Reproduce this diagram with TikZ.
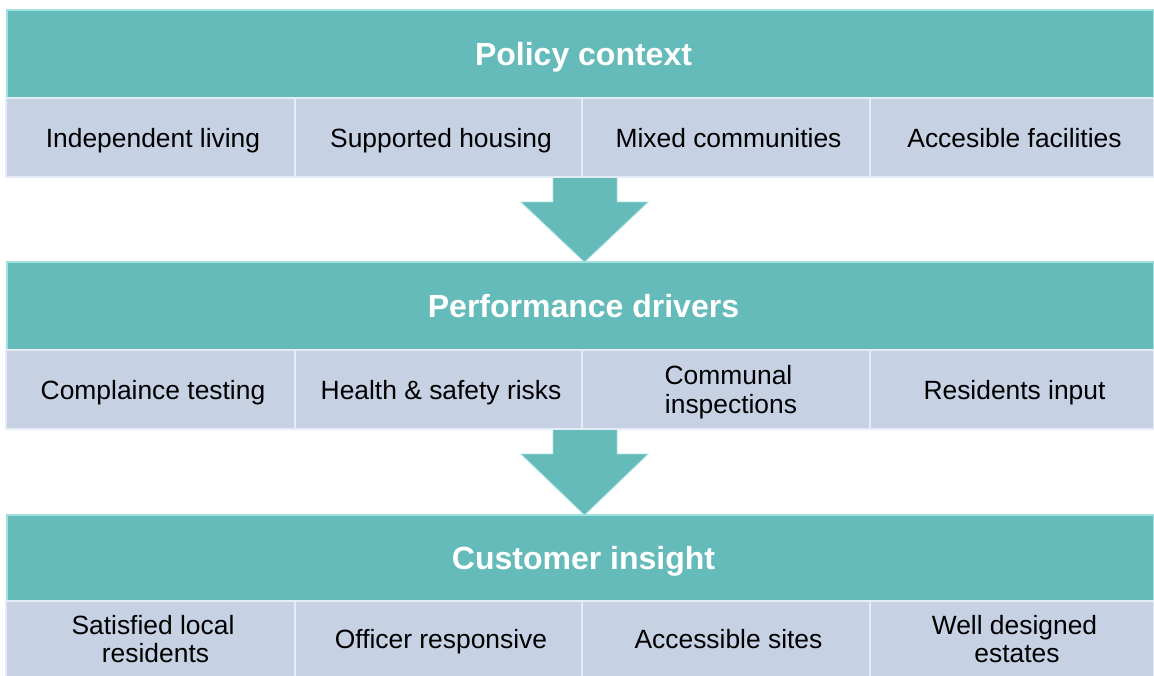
\documentclass[tikz,border=0pt]{standalone}
\usepackage{fontspec}
\setmainfont{Liberation Sans}
\definecolor{tealfill}{RGB}{101,187,185}
\definecolor{tealedge}{RGB}{160,224,222}
\definecolor{subfill}{RGB}{198,209,227}
\definecolor{subedge}{RGB}{230,236,245}
\newcommand{\tsh}{\hspace*{5pt}}
\tikzset{
  header/.style={fill=tealfill, draw=tealedge, line width=1.2pt, text=white,
    font=\fontsize{32}{36}\selectfont\bfseries, inner sep=0pt, text depth=0pt,
    execute at begin node=\hspace*{6pt}},
  subbox/.style={fill=subfill, draw=subedge, line width=1.6pt,
    font=\fontsize{26.4}{28.5}\selectfont, align=center, inner sep=0pt, text depth=0pt,
    execute at begin node=\tsh},
  flowarrow/.style={fill=tealfill, draw=tealedge, line width=0.8pt, line join=miter}
}
\begin{document}
\begin{tikzpicture}[x=1pt,y=-1pt]
\useasboundingbox[fill=white] (0,0) rectangle (1154,675);

% arrows
\draw[flowarrow] (553,177) -- (617,177) -- (617,202) -- (648,202) -- (584.5,262) -- (521,202) -- (553,202) -- cycle;
\draw[flowarrow] (553,429) -- (617,429) -- (617,454) -- (648,454) -- (584.5,515) -- (521,454) -- (553,454) -- cycle;

% row 1
\node[header, minimum width=1147pt, minimum height=88pt] (h1) at (580.5,54) {Policy context};
\node[subbox, minimum width=289pt, minimum height=79pt] (a1) at (150.5,137.5) {Independent living};
\node[subbox, minimum width=287pt, minimum height=79pt] (a2) at (438.5,137.5) {Supported housing};
\node[subbox, minimum width=288pt, minimum height=79pt] (a3) at (726,137.5) {Mixed communities};
\node[subbox, minimum width=284pt, minimum height=79pt] (a4) at (1012,137.5) {Accesible facilities};

% row 2
\node[header, minimum width=1147pt, minimum height=88pt] (h2) at (580.5,306) {Performance drivers};
\node[subbox, minimum width=289pt, minimum height=79pt] (b1) at (150.5,389.5) {Complaince testing};
\node[subbox, minimum width=287pt, minimum height=79pt] (b2) at (438.5,389.5) {Health \& safety risks};
\node[subbox, minimum width=288pt, minimum height=79pt] (b3) at (726,389.5) {Communal\\\tsh inspections};
\node[subbox, minimum width=284pt, minimum height=79pt] (b4) at (1012,389.5) {Residents input};

% row 3
\node[header, minimum width=1147pt, minimum height=86pt] (h3) at (580.5,558) {Customer insight};
\node[subbox, minimum width=289pt, minimum height=76pt] (c1) at (150.5,639) {Satisfied local\\\tsh residents};
\node[subbox, minimum width=287pt, minimum height=76pt] (c2) at (438.5,639) {Officer responsive};
\node[subbox, minimum width=288pt, minimum height=76pt] (c3) at (726,639) {Accessible sites};
\node[subbox, minimum width=284pt, minimum height=76pt] (c4) at (1012,639) {Well designed\\\tsh estates};
\end{tikzpicture}
\end{document}
